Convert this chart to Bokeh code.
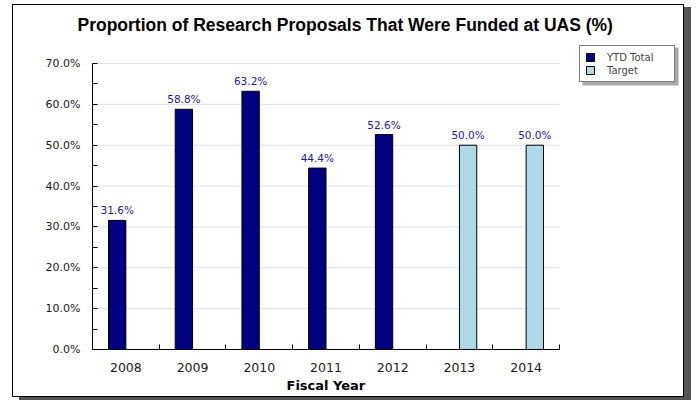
from bokeh.plotting import figure
from bokeh.models import (ColumnDataSource, FixedTicker, PrintfTickFormatter, Legend, LegendItem,
                          Range1d, Title, BoxAnnotation)
from bokeh.transform import dodge
from bokeh.core.properties import value
from bokeh.embed import file_html
from bokeh.resources import INLINE

years = ["2008", "2009", "2010", "2011", "2012", "2013", "2014"]
ytd_years = ["2008", "2009", "2010", "2011", "2012"]
ytd_values = [31.6, 58.8, 63.2, 44.4, 52.6]
target_years = ["2013", "2014"]
target_values = [50.0, 50.0]
y_ticks = [0, 10, 20, 30, 40, 50, 60, 70]

pos = {y: i + 0.5 for i, y in enumerate(years)}
n = len(years)
ymax = y_ticks[-1]

ytd_src = ColumnDataSource(dict(
    x=[pos[y] for y in ytd_years], top=ytd_values,
    label=["%.1f%%" % v for v in ytd_values]))
tgt_src = ColumnDataSource(dict(
    x=[pos[y] for y in target_years], top=target_values,
    label=["%.1f%%" % v for v in target_values]))

# frame extended to the right/top to host the legend; axes are bounded
p = figure(width=672, height=393, output_backend="svg", toolbar_location=None,
           x_range=Range1d(0, n * 589 / 467), y_range=Range1d(0, ymax * 310 / 286),
           min_border_left=79, min_border_right=4, min_border_bottom=49, min_border_top=34)
p.margin = (4, 0, 0, 12)
p.styles = {"border": "1px solid #000", "box-shadow": "7px 3px 0 #555"}

p.title.text = "Proportion of Research Proposals That Were Funded at UAS (%)"
p.title.text_font = "Liberation Sans"
p.title.text_font_size = "17.5px"
p.title.text_font_style = "bold"
p.title.text_color = "#000000"
p.title.align = "left"
p.title.offset = -15
p.title.standoff = 10

p.outline_line_color = None
p.xgrid.grid_line_color = None
p.ygrid.grid_line_color = None

# horizontal grid lines limited to the plot area
grid_src = ColumnDataSource(dict(y=y_ticks[1:], x0=[0] * (len(y_ticks) - 1), x1=[n] * (len(y_ticks) - 1)))
p.segment(x0="x0", x1="x1", y0="y", y1="y", source=grid_src, line_color="#e0e0e0", line_width=1,
          level="underlay")

bw = 0.26
r1 = p.vbar(x=dodge("x", -0.13, range=p.x_range), top="top", width=bw, source=ytd_src,
            fill_color="#000080", line_color="#000000", line_width=1)
r2 = p.vbar(x=dodge("x", 0.13, range=p.x_range), top="top", width=bw, source=tgt_src,
            fill_color="#ADD8E6", line_color="#000000", line_width=1)

for src, off in ((ytd_src, -0.13), (tgt_src, 0.13)):
    p.text(x=dodge("x", off, range=p.x_range), y="top", text="label", source=src,
           text_align="center", text_baseline="bottom", y_offset=-4,
           text_font=value("DejaVu Sans"), text_font_size="10.5px", text_color="#1a1aa0")

# axes
p.xaxis.bounds = (0, n)
p.xaxis.ticker = FixedTicker(ticks=[pos[y] for y in years],
                             minor_ticks=list(range(n + 1)))
p.xaxis.major_label_overrides = {pos[y]: y for y in years}
p.xaxis.major_tick_line_color = None
p.xaxis.minor_tick_in = 5
p.xaxis.minor_tick_out = 0
p.xaxis.minor_tick_line_color = "#000000"
p.xaxis.major_label_standoff = 7
p.xaxis.major_label_text_font_size = "12.5px"

p.yaxis.bounds = (0, ymax)
p.yaxis.ticker = FixedTicker(ticks=y_ticks, minor_ticks=[v + 5 for v in y_ticks[:-1]])
p.yaxis.formatter = PrintfTickFormatter(format="%.1f%%")
p.yaxis.major_tick_in = 5
p.yaxis.major_tick_out = 0
p.yaxis.minor_tick_in = 5
p.yaxis.minor_tick_out = 0
p.yaxis.major_label_standoff = 12
p.yaxis.major_label_text_font_size = "11px"

for ax in (p.xaxis, p.yaxis):
    ax.axis_line_color = "#000000"
    ax.major_label_text_font = "DejaVu Sans"
    ax.major_label_text_color = "#1a1a1a"

# x axis title, centred under the bounded axis
xt = Title(text="Fiscal Year", align="left", offset=194, standoff=2,
           text_font="DejaVu Sans", text_font_size="13px", text_font_style="bold",
           text_color="#000000")
p.add_layout(xt, "below")

# legend shadow (screen units relative to the frame, measured from its bottom-left)
p.add_layout(BoxAnnotation(left=490, right=586, bottom=264, top=302,
                           left_units="screen", right_units="screen",
                           top_units="screen", bottom_units="screen",
                           fill_color="#a8a8a8", fill_alpha=1, line_color=None))

legend = Legend(items=[LegendItem(label="YTD Total", renderers=[r1]),
                       LegendItem(label="Target", renderers=[r2])],
                location=(487, 267))
legend.border_line_color = "#000000"
legend.label_text_font = "DejaVu Sans"
legend.label_text_font_size = "10px"
legend.glyph_width = 10
legend.glyph_height = 10
legend.label_height = 12
legend.label_width = 62
legend.spacing = 1
legend.padding = 5
legend.margin = 0
legend.label_standoff = 12
legend.background_fill_alpha = 1
p.add_layout(legend, "center")

open("out.html", "w").write(file_html(p, INLINE))
